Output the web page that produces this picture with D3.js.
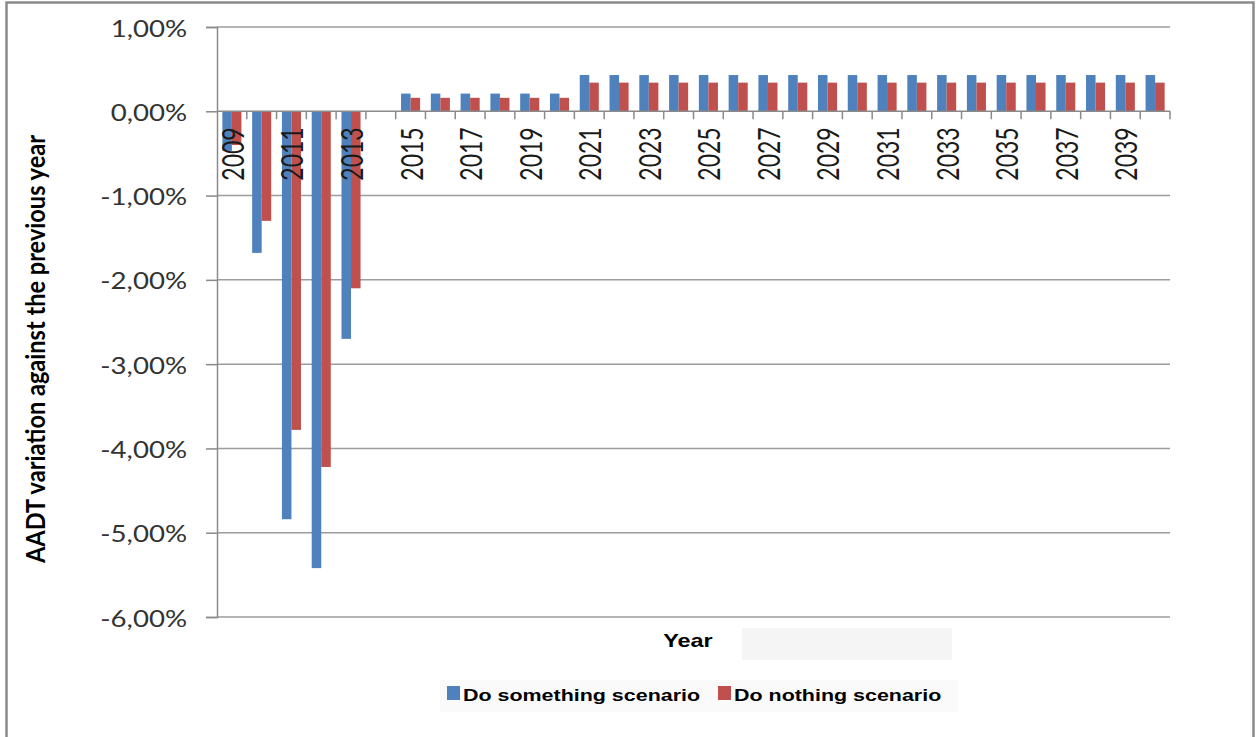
<!DOCTYPE html>
<html>
<head>
<meta charset="utf-8">
<script src="https://cdn.jsdelivr.net/npm/d3@7"></script>
<style>
  body { margin: 0; background: #fff; }
  svg { display: block; }
</style>
</head>
<body>
<svg id="chart" width="1257" height="737"></svg>
<script>
// Annual AADT variation by year, two scenarios (percent)
const years = ["2009","2010","2011","2012","2013","2014","2015","2016","2017","2018",
               "2019","2020","2021","2022","2023","2024","2025","2026","2027","2028",
               "2029","2030","2031","2032","2033","2034","2035","2036","2037","2038",
               "2039","2040"];
const doSomething = [-0.47, -1.68, -4.84, -5.42, -2.70, 0.00,
                     0.21, 0.21, 0.21, 0.21, 0.21, 0.21,
                     0.43, 0.43, 0.43, 0.43, 0.43, 0.43, 0.43, 0.43, 0.43, 0.43,
                     0.43, 0.43, 0.43, 0.43, 0.43, 0.43, 0.43, 0.43, 0.43, 0.43];
const doNothing   = [-0.40, -1.30, -3.78, -4.22, -2.10, 0.00,
                     0.16, 0.16, 0.16, 0.16, 0.16, 0.16,
                     0.34, 0.34, 0.34, 0.34, 0.34, 0.34, 0.34, 0.34, 0.34, 0.34,
                     0.34, 0.34, 0.34, 0.34, 0.34, 0.34, 0.34, 0.34, 0.34, 0.34];
const seriesNames  = ["Do something scenario", "Do nothing scenario"];
const seriesColors = ["#4F81BD", "#C0504D"];
const yTicks = [1, 0, -1, -2, -3, -4, -5, -6];

const svg = d3.select("#chart");
const plot = { left: 217, right: 1170, top: 27, bottom: 617 };

const locale = d3.formatLocale({ decimal: ",", thousands: ".", grouping: [3], currency: ["", "€"], minus: "-" });
const pct = v => locale.format(".2f")(v) + "%";

// Frame
svg.append("rect").attr("width", 1257).attr("height", 737).attr("fill", "#fff");
svg.append("rect")
  .attr("x", 6.5).attr("y", 2.5).attr("width", 1247).attr("height", 760)
  .attr("fill", "none").attr("stroke", "#8a8a8a").attr("stroke-width", 2.5);

// Scales
const y = d3.scaleLinear().domain([-6, 1]).range([plot.bottom, plot.top]);
const x0 = d3.scaleBand().domain(years).range([plot.left, plot.right]).padding(0);
const bw = x0.bandwidth();
const x1 = d3.scaleBand().domain([0, 1]).range([bw * 0.18, bw * 0.82]).padding(0);

// Horizontal gridlines
svg.append("g").selectAll("line")
  .data(yTicks.filter(t => t !== 0))
  .join("line")
  .attr("x1", plot.left).attr("x2", plot.right)
  .attr("y1", d => y(d)).attr("y2", d => y(d))
  .attr("stroke", "#9c9c9c").attr("stroke-width", 1.5);

// Bars
const series = [doSomething, doNothing];
series.forEach((vals, si) => {
  svg.append("g").selectAll("rect")
    .data(vals.map((v, i) => ({ year: years[i], v })))
    .join("rect")
    .attr("x", d => x0(d.year) + x1(si))
    .attr("width", x1.bandwidth())
    .attr("y", d => Math.min(y(d.v), y(0)))
    .attr("height", d => Math.abs(y(d.v) - y(0)))
    .attr("fill", seriesColors[si]);
});

// Value axis
const yAxis = svg.append("g")
  .attr("transform", `translate(${plot.left},0)`)
  .call(d3.axisLeft(y).tickValues(yTicks).tickSize(11).tickFormat(pct));
yAxis.select(".domain").attr("stroke", "#8a8a8a").attr("stroke-width", 1.5);
yAxis.selectAll(".tick line").attr("stroke", "#8a8a8a").attr("stroke-width", 1.5);
yAxis.selectAll(".tick text")
  .attr("x", null).attr("dy", null)
  .attr("transform", "translate(-30,0) scale(1.2,1)")
  .attr("dominant-baseline", "central")
  .attr("text-anchor", "end")
  .attr("fill", "#333")
  .style("font-family", "Lato, 'Open Sans', sans-serif")
  .style("font-size", "23px");

// Category axis along zero
const y0 = y(0);
const xAxis = svg.append("g");
xAxis.append("line")
  .attr("x1", plot.left).attr("x2", plot.right)
  .attr("y1", y0).attr("y2", y0)
  .attr("stroke", "#8a8a8a").attr("stroke-width", 1.5);
xAxis.selectAll("line.tick")
  .data(years.map(yr => x0(yr)).concat([plot.right]).slice(1))
  .join("line").attr("class", "tick")
  .attr("x1", d => d).attr("x2", d => d)
  .attr("y1", y0).attr("y2", y0 + 8)
  .attr("stroke", "#8a8a8a").attr("stroke-width", 1.5);
xAxis.selectAll("text")
  .data(years.filter((yr, i) => i % 2 === 0))
  .join("text")
  .attr("transform", d => `translate(${x0(d) + bw / 2},${y0 + 16}) scale(1.35,1) rotate(-90)`)
  .attr("text-anchor", "end")
  .attr("dominant-baseline", "central")
  .attr("fill", "#1a1a1a")
  .style("font-family", "Lato, 'Open Sans', sans-serif")
  .style("font-size", "23px")
  .text(d => d);

// Value axis title
svg.append("text")
  .attr("transform", "translate(35,349) scale(1.35,1) rotate(-90)")
  .attr("text-anchor", "middle")
  .attr("dominant-baseline", "central")
  .attr("textLength", 428).attr("lengthAdjust", "spacingAndGlyphs")
  .attr("fill", "#000")
  .style("font-family", "Lato, 'Open Sans', sans-serif")
  .style("font-weight", "bold")
  .style("font-size", "20px")
  .text("AADT variation against the previous year");

// Category axis title
svg.append("rect").attr("x", 742).attr("y", 628).attr("width", 210).attr("height", 32).attr("fill", "#f5f5f5");
svg.append("text")
  .attr("transform", "translate(688,641) scale(1.3,1)")
  .attr("text-anchor", "middle")
  .attr("dominant-baseline", "central")
  .attr("fill", "#000")
  .style("font-family", "'Liberation Sans', Arial, sans-serif")
  .style("font-weight", "bold")
  .style("font-size", "18px")
  .text("Year");

// Legend
svg.append("rect").attr("x", 440).attr("y", 680).attr("width", 518).attr("height", 32).attr("fill", "#fafafa");
const legendX = [447, 718];
const legend = svg.append("g").selectAll("g")
  .data(seriesNames)
  .join("g");
legend.append("rect")
  .attr("x", (d, i) => legendX[i]).attr("y", 686)
  .attr("width", 13).attr("height", 14)
  .attr("fill", (d, i) => seriesColors[i]);
legend.append("text")
  .attr("transform", (d, i) => `translate(${legendX[i] + 16},${695}) scale(1.3,1)`)
  .attr("dominant-baseline", "central")
  .attr("fill", "#000")
  .style("font-family", "'Liberation Sans', Arial, sans-serif")
  .style("font-weight", "bold")
  .style("font-size", "16.5px")
  .text(d => d);
</script>
</body>
</html>
